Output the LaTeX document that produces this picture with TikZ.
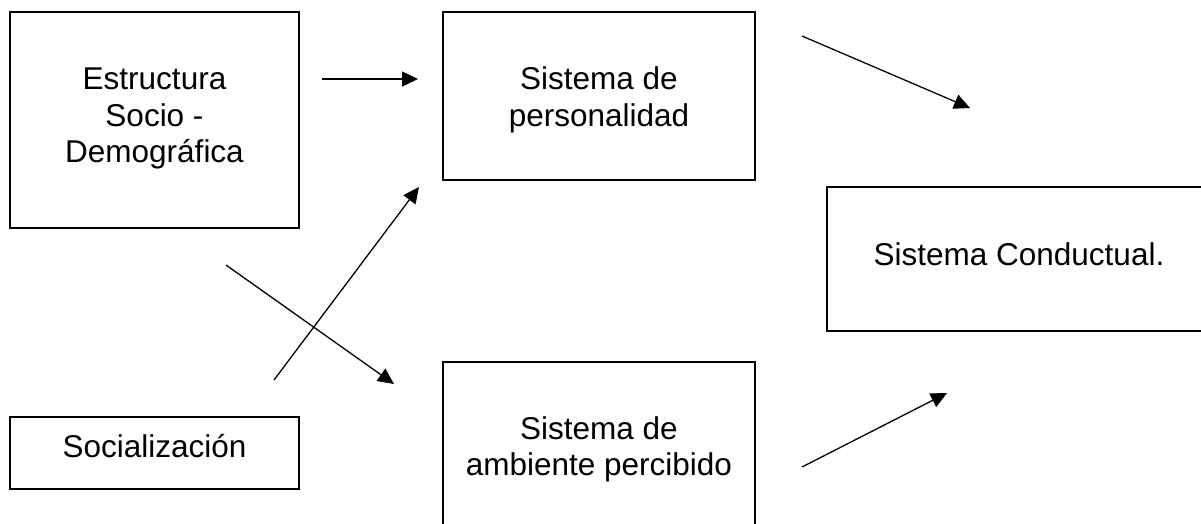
\documentclass[tikz,border=0pt]{standalone}
\usepackage{fontspec}
\setmainfont{Liberation Sans}
\usetikzlibrary{arrows.meta}
\begin{document}
\begin{tikzpicture}[x=1pt,y=-1pt,
  boxnode/.style={draw=black, line width=1.4pt, inner sep=0pt, outer sep=0pt, fill=none},
  txt/.style={inner sep=0pt, anchor=base, font=\fontsize{31.5}{36.2}\selectfont},
  conn/.style={draw=black, line width=1.3pt, -{Triangle[length=16pt,width=15pt]}}]
\useasboundingbox (0,0) rectangle (1201,524);
\clip (0,0) rectangle (1201,524);
\fill[white] (0,0) rectangle (1201,524);
% boxes
\node[boxnode, minimum width=289pt, minimum height=216pt] (b1) at (154.5,120) {};
\node[boxnode, minimum width=312pt, minimum height=168pt] (b2) at (599,96) {};
\node[boxnode, minimum width=384pt, minimum height=144pt] (b3) at (1019,259) {};
\node[boxnode, minimum width=289pt, minimum height=72pt] (b4) at (154.5,453) {};
\node[boxnode, minimum width=312pt, minimum height=168pt] (b5) at (599,446) {};
% texts
\node[txt] (t1) at (154.5,90) {\vtop{\halign{\hfil#\hfil\cr Estructura\cr Socio -\cr Demográfica\cr}}};
\node[txt] (t2) at (599,90) {\vtop{\halign{\hfil#\hfil\cr Sistema de\cr personalidad\cr}}};
\node[txt] (t3) at (1019,265) {Sistema Conductual.};
\node[txt] (t4) at (154.5,457) {Socialización};
\node[txt] (t5) at (599,439) {\vtop{\halign{\hfil#\hfil\cr Sistema de\cr ambiente percibido\cr}}};
% arrow ends
\coordinate (a1s) at (322,79);
\coordinate (a1e) at (418,79);
\coordinate (a2s) at (802,36);
\coordinate (a2e) at (970,108);
\coordinate (a3s) at (226,265);
\coordinate (a3e) at (394,384);
\coordinate (a4s) at (274,380);
\coordinate (a4e) at (419,187);
\coordinate (a5s) at (802,467);
\coordinate (a5e) at (947,393);
\draw[conn] (a1s) -- (a1e);
\draw[conn] (a2s) -- (a2e);
\draw[conn] (a3s) -- (a3e);
\draw[conn] (a4s) -- (a4e);
\draw[conn] (a5s) -- (a5e);
\end{tikzpicture}
\end{document}
